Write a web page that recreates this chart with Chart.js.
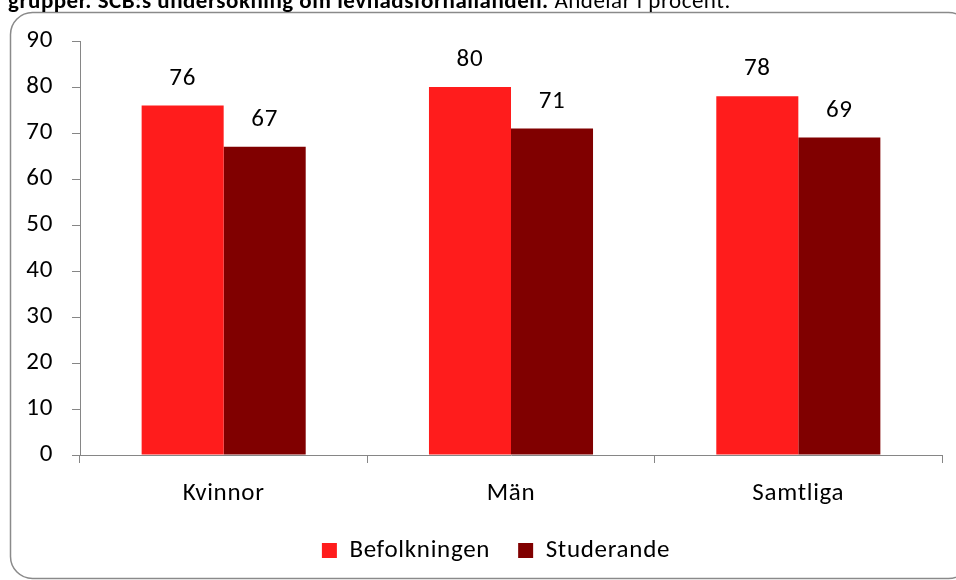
<!DOCTYPE html>
<html lang="sv">
<head>
<meta charset="UTF-8" />
<title>Andelar i procent</title>
<script src="https://cdn.jsdelivr.net/npm/chart.js@4/dist/chart.umd.min.js"></script>
<style>
  html, body { margin: 0; padding: 0; background: #fff; }
  #wrap { width: 956px; height: 580px; position: relative; }
</style>
</head>
<body>
<div id="wrap"><canvas id="chart"></canvas></div>
<script>
  // data
  const categories = ['Kvinnor', 'Män', 'Samtliga'];
  const befolkningen = [76, 80, 78];
  const studerande = [67, 71, 69];
  const seriesNames = ['Befolkningen', 'Studerande'];
  const yTicks = [0, 10, 20, 30, 40, 50, 60, 70, 80, 90];

  const FONT = "Carlito, 'Open Sans', 'Noto Sans', sans-serif";
  const SIZE = 25;
  const SPACING = '0.7px';
  const AXIS_GRAY = '#868686';

  // Calibri in the original renders a bit wider, so loosen the letters
  const spacingPlugin = {
    id: 'spacing',
    beforeUpdate(chart) { chart.ctx.letterSpacing = SPACING; },
    beforeDraw(chart) { chart.ctx.letterSpacing = SPACING; }
  };

  // legend sits a little right of centre and higher in the original
  const legendNudge = {
    id: 'legendNudge',
    afterLayout(chart) {
      const lg = chart.legend;
      lg.left += 20; lg.right += 20;
      lg.top -= 7; lg.bottom -= 7;
    }
  };

  // frame + cut-off heading
  const framePlugin = {
    id: 'frame',
    beforeDraw(chart) {
      const c = chart.ctx;
      c.save();
      c.fillStyle = '#fff';
      c.fillRect(0, 0, chart.width, chart.height);
      c.strokeStyle = '#8a8a8a';
      c.lineWidth = 1.5;
      c.beginPath();
      c.roundRect(10.5, 12.5, 960, 566, 22);
      c.stroke();

      c.fillStyle = '#000';
      c.textBaseline = 'alphabetic';
      c.letterSpacing = '0.5px';
      c.font = 'bold 23px ' + FONT;
      const bold = 'grupper. SCB:s undersökning om levnadsförhållanden.';
      c.fillText(bold, 8, 8);
      const w = c.measureText(bold + ' ').width;
      c.font = '23px ' + FONT;
      c.fillText('Andelar i procent.', 8 + w, 8);
      c.restore();
    }
  };

  // value labels above bars
  const valueLabels = {
    id: 'valueLabels',
    afterDatasetsDraw(chart) {
      const c = chart.ctx;
      c.save();
      c.font = SIZE + 'px ' + FONT;
      c.fillStyle = '#000';
      c.textAlign = 'center';
      c.textBaseline = 'middle';
      chart.data.datasets.forEach((ds, i) => {
        chart.getDatasetMeta(i).data.forEach((bar, j) => {
          c.fillText(ds.data[j], bar.x, bar.y - 27);
        });
      });
      c.restore();
    }
  };

  new Chart(document.getElementById('chart'), {
    type: 'bar',
    data: {
      labels: categories,
      datasets: [
        { label: seriesNames[0], data: befolkningen, backgroundColor: '#FF1C1C',
          categoryPercentage: 0.571, barPercentage: 1 },
        { label: seriesNames[1], data: studerande, backgroundColor: '#800000',
          categoryPercentage: 0.571, barPercentage: 1 }
      ]
    },
    options: {
      responsive: true,
      maintainAspectRatio: false,
      animation: false,
      layout: { padding: { left: 10, right: 14, top: 41, bottom: 0 } },
      plugins: {
        legend: {
          position: 'bottom',
          labels: {
            color: '#000',
            font: { family: FONT, size: SIZE },
            boxWidth: 15, boxHeight: 15, padding: 28
          }
        },
        tooltip: { enabled: false }
      },
      scales: {
        x: {
          grid: { display: true, drawOnChartArea: false, color: AXIS_GRAY, tickLength: 8, offset: true },
          border: { color: AXIS_GRAY },
          ticks: { color: '#000', font: { family: FONT, size: SIZE }, padding: 16 },
          afterFit(scale) { scale.height = 62; }
        },
        y: {
          min: 0, max: 90,
          afterBuildTicks(scale) { scale.ticks = yTicks.map(v => ({ value: v })); },
          grid: { display: true, drawOnChartArea: false, color: AXIS_GRAY, tickLength: 8 },
          border: { color: AXIS_GRAY },
          ticks: { color: '#000', font: { family: FONT, size: SIZE }, padding: 19 },
          afterFit(scale) { scale.width = 70; }
        }
      }
    },
    plugins: [spacingPlugin, legendNudge, framePlugin, valueLabels]
  });
</script>
</body>
</html>
